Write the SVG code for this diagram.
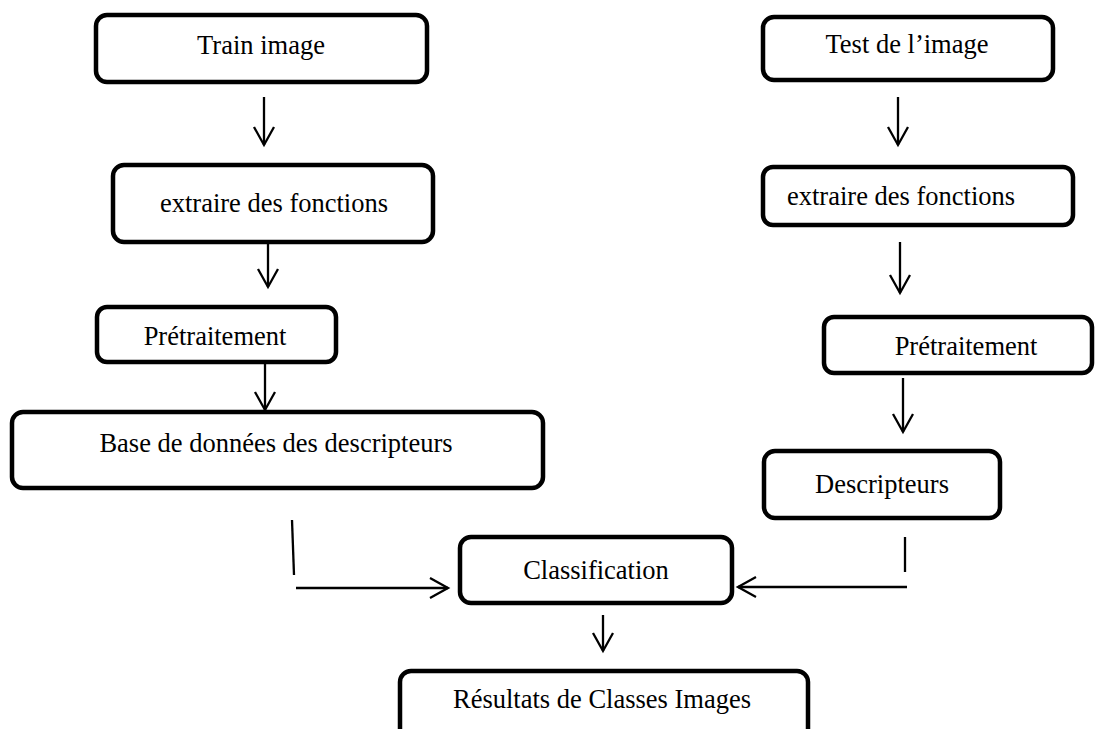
<svg xmlns="http://www.w3.org/2000/svg" width="1098" height="729" viewBox="0 0 1098 729">
<style>
.box{fill:#fff;stroke:#000;stroke-width:4.5}
.t{font-family:"Liberation Serif","Times New Roman",serif;font-size:26.5px;fill:#000}
.c{text-anchor:middle}
.ln{fill:none;stroke:#000;stroke-width:2.3}
</style>
<defs>
<marker id="arr" markerUnits="userSpaceOnUse" orient="auto" overflow="visible" refX="0" refY="0" markerWidth="1" markerHeight="1">
<path d="M-18,-10 L0,0 L-18,10" fill="none" stroke="#000" stroke-width="2.3"/>
</marker>
</defs>
<rect width="1098" height="729" fill="#fff"/>
<g id="connectors">
<line class="ln" x1="264" y1="97" x2="264" y2="145" marker-end="url(#arr)"/>
<line class="ln" x1="268" y1="243" x2="268" y2="287" marker-end="url(#arr)"/>
<line class="ln" x1="265" y1="363" x2="265" y2="410" marker-end="url(#arr)"/>
<line class="ln" x1="292" y1="520" x2="294" y2="575"/>
<line class="ln" x1="296" y1="588" x2="448" y2="588" marker-end="url(#arr)"/>
<line class="ln" x1="898" y1="97" x2="898" y2="145" marker-end="url(#arr)"/>
<line class="ln" x1="900" y1="242" x2="900" y2="293" marker-end="url(#arr)"/>
<line class="ln" x1="903" y1="378" x2="903" y2="432" marker-end="url(#arr)"/>
<line class="ln" x1="905" y1="537" x2="905" y2="572"/>
<line class="ln" x1="907" y1="587" x2="738" y2="587" marker-end="url(#arr)"/>
<line class="ln" x1="603" y1="615" x2="603" y2="651" marker-end="url(#arr)"/>
</g>
<g id="train">
<rect class="box" x="96" y="15" width="331" height="67" rx="11"/>
<text class="t c" x="261" y="54">Train image</text>
</g>
<g id="extract-left">
<rect class="box" x="113" y="165" width="320" height="77" rx="11"/>
<text class="t c" x="274" y="212">extraire des fonctions</text>
</g>
<g id="pre-left">
<rect class="box" x="97" y="307" width="239" height="55" rx="10"/>
<text class="t c" x="215" y="345">Prétraitement</text>
</g>
<g id="base">
<rect class="box" x="12" y="412" width="531" height="76" rx="11"/>
<text class="t c" x="276" y="452">Base de données des descripteurs</text>
</g>
<g id="test">
<rect class="box" x="763" y="17" width="290" height="63" rx="11"/>
<text class="t c" x="907" y="53">Test de l’image</text>
</g>
<g id="extract-right">
<rect class="box" x="763" y="167" width="310" height="58" rx="10"/>
<text class="t" x="787" y="205">extraire des fonctions</text>
</g>
<g id="pre-right">
<rect class="box" x="824" y="317" width="268" height="56" rx="10"/>
<text class="t c" x="966" y="355">Prétraitement</text>
</g>
<g id="desc">
<rect class="box" x="764" y="451" width="236" height="67" rx="11"/>
<text class="t c" x="882" y="493">Descripteurs</text>
</g>
<g id="classif">
<rect class="box" x="460" y="537" width="272" height="66" rx="11"/>
<text class="t c" x="596" y="579">Classification</text>
</g>
<g id="result">
<rect class="box" x="400" y="671" width="408" height="80" rx="11"/>
<text class="t c" x="602" y="708">Résultats de Classes Images</text>
</g>
</svg>
